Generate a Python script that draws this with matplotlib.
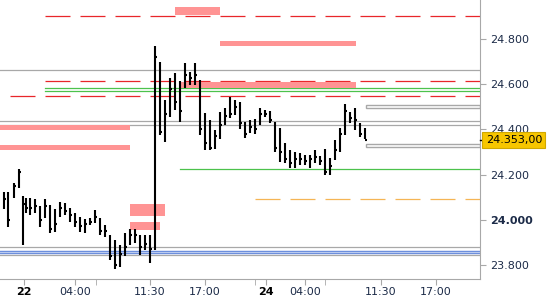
import matplotlib
matplotlib.use("Agg")
import matplotlib.pyplot as plt
from matplotlib.patches import Rectangle

# bar positions (30 min slots, compressed session axis)
slots = [0.8, 1.6, 2.7, 3.7, 4.6, 5.2] + [6 + i for i in range(68)]
highs = [24.123, 24.123, 24.162, 24.224, 24.105, 24.096, 24.096, 24.091, 24.060, 24.091,
         24.065, 24.047, 24.078, 24.074, 24.052, 24.029, 24.012, 24.003, 24.007, 24.043,
         24.007, 23.976, 23.932, 23.910, 23.888, 23.941, 23.958, 23.958, 23.932, 23.932,
         23.932, 24.770, 24.699, 24.530, 24.628, 24.650, 24.615, 24.695, 24.655, 24.695,
         24.619, 24.473, 24.442, 24.397, 24.477, 24.495, 24.544, 24.530, 24.522, 24.433,
         24.442, 24.446, 24.495, 24.486, 24.482, 24.433, 24.406, 24.340, 24.309, 24.300,
         24.295, 24.287, 24.287, 24.309, 24.282, 24.313, 24.273, 24.353, 24.406, 24.513,
         24.477, 24.495, 24.428, 24.406]
lows = [24.047, 23.967, 24.096, 24.140, 23.888, 24.029, 24.021, 24.029, 23.967, 24.007,
        23.941, 23.945, 24.012, 24.021, 23.989, 23.967, 23.945, 23.941, 23.976, 23.985,
        23.932, 23.923, 23.821, 23.781, 23.790, 23.839, 23.888, 23.897, 23.843, 23.865,
        23.808, 23.865, 24.375, 24.344, 24.455, 24.486, 24.433, 24.584, 24.597, 24.597,
        24.375, 24.309, 24.309, 24.313, 24.358, 24.420, 24.451, 24.464, 24.402, 24.362,
        24.384, 24.380, 24.420, 24.455, 24.428, 24.300, 24.256, 24.251, 24.229, 24.229,
        24.242, 24.242, 24.229, 24.251, 24.242, 24.198, 24.198, 24.264, 24.300, 24.375,
        24.428, 24.397, 24.366, 24.358]
closes = [24.09, 24.00, 24.15, 24.21, 24.07, 24.05, 24.05, 24.06, 24.00, 24.06,
          23.96, 23.98, 24.05, 24.04, 24.02, 23.99, 23.97, 23.98, 23.99, 24.01,
          23.95, 23.95, 23.84, 23.80, 23.85, 23.88, 23.93, 23.93, 23.88, 23.89,
          23.87, 24.72, 24.39, 24.47, 24.58, 24.52, 24.48, 24.64, 24.63, 24.64,
          24.40, 24.34, 24.32, 24.37, 24.42, 24.46, 24.47, 24.50, 24.43, 24.38,
          24.41, 24.40, 24.47, 24.47, 24.44, 24.32, 24.30, 24.27, 24.25, 24.27,
          24.27, 24.26, 24.27, 24.28, 24.26, 24.21, 24.24, 24.31, 24.38, 24.48,
          24.45, 24.44, 24.38, 24.353]
last_price = 24.353

# horizontal levels: (price, color, style, start slot)
levels = [
    (24.903, "#e8262a", "dash", 9), (24.615, "#e8262a", "dash", 9),
    (24.548, "#e8262a", "dash", 2), (24.582, "#4cc24c", "solid", 9),
    (24.570, "#4cc24c", "solid", 9), (24.224, "#4cc24c", "solid", 36),
    (24.091, "#f5b555", "dash", 51),
    (24.664, "#a8a8a8", "solid", 0), (24.436, "#a8a8a8", "solid", 0),
    (24.418, "#a8a8a8", "solid", 0), (23.880, "#a8a8a8", "solid", 0),
    (23.842, "#a8a8a8", "solid", 0),
]
# zones: (start slot, end slot, low, high)
zones = [
    (35, 44, 24.907, 24.943), (44, 71.2, 24.770, 24.792), (36, 71.2, 24.582, 24.612),
    (0, 26, 24.397, 24.418), (0, 26, 24.309, 24.331),
    (26, 33, 24.016, 24.069), (26, 32, 23.954, 23.989),
]
boxes = [(73.2, 96, 24.494, 24.507), (73.2, 96, 24.323, 24.335)]

yticks = [23.8, 24.0, 24.2, 24.4, 24.6, 24.8]
ytick_labels = ["23.800", "24.000", "24.200", "24.400", "24.600", "24.800"]
xticks = [4.8, 15, 30, 41, 53.2, 61, 76.2, 87.2]
xtick_labels = ["22", "04:00", "11:30", "17:00", "24", "04:00", "11:30", "17:00"]
minor_xticks = [19.1, 51, 65]

fig = plt.figure(figsize=(5.5, 3.0), dpi=100)
ax = fig.add_axes([0, 0.07, 480 / 550, 0.93])
ax.set_xlim(0, 96)
ax.set_ylim(23.737, 24.974)

# blue band
ax.axhspan(23.851, 23.862, color="#e6ecfb", zorder=0)
ax.axhline(23.862, color="#6d8fdc", lw=1, zorder=1)
ax.axhline(23.851, color="#6d8fdc", lw=1, zorder=1)

for p, c, st, x0 in levels:
    ls = (0, (20, 8)) if st == "dash" else "-"
    ax.plot([x0, 96], [p, p], color=c, lw=0.9, ls=ls, zorder=1)

for x0, x1, lo, hi in zones:
    ax.add_patch(Rectangle((x0, lo), x1 - x0, hi - lo, color="#ff9494", lw=0, zorder=2))
for x0, x1, lo, hi in boxes:
    ax.add_patch(Rectangle((x0, lo), x1 - x0, hi - lo, facecolor="white",
                           edgecolor="#a8a8a8", lw=1, zorder=2))

ax.vlines(slots, lows, highs, color="black", lw=1.5, zorder=3)
ax.hlines(closes, [s for s in slots], [s + 0.45 for s in slots], color="black", lw=1.5, zorder=3)

for s in ["top", "left"]:
    ax.spines[s].set_visible(False)
ax.spines["right"].set_color("#a8a8a8")
ax.spines["bottom"].set_color("#a8a8a8")
ax.yaxis.tick_right()
ax.set_yticks(yticks)
ax.set_yticklabels(ytick_labels)
ax.tick_params(axis="y", colors="#a8a8a8", labelcolor="#1c2b48", length=4, pad=3, labelsize=8)
ax.get_yticklabels()[1].set_fontweight("bold")
ax.set_xticks(xticks)
ax.set_xticklabels(xtick_labels)
ax.set_xticks(minor_xticks, minor=True)
ax.tick_params(axis="x", which="both", colors="#a8a8a8", labelcolor="#1c2b48", length=4, pad=2, labelsize=8)
for i in (0, 4):
    ax.get_xticklabels()[i].set_fontweight("bold")
    ax.get_xticklabels()[i].set_color("black")

# last price marker
ax.plot([1.0, 1.01], [last_price, last_price], color="black", lw=1,
        transform=ax.get_yaxis_transform(), clip_on=False, zorder=5)
ax.text(1.012, last_price, "24.353,00", transform=ax.get_yaxis_transform(),
        va="center", ha="left", fontsize=8, color="black",
        bbox=dict(boxstyle="square,pad=0.3", fc="#f7c600", ec="#d0a800", lw=0.8),
        zorder=5, clip_on=False)

fig.savefig("out.png", dpi=100)
